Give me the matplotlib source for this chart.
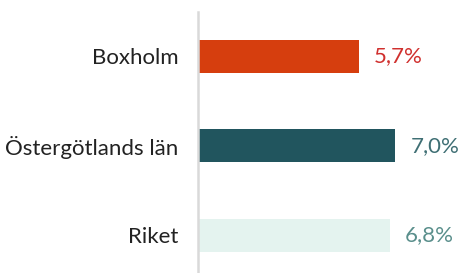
import matplotlib
matplotlib.use("Agg")
import matplotlib.pyplot as plt

categories = ["Boxholm", "Östergötlands län", "Riket"]
values = [5.7, 7.0, 6.8]
value_labels = ["5,7%", "7,0%", "6,8%"]
bar_colors = ["#D63E0E", "#21555E", "#E4F3EF"]
label_colors = ["#D0302E", "#3F6F74", "#5A8F8C"]

plt.rcParams['font.family'] = ['Lato', 'DejaVu Sans']

fig = plt.figure(figsize=(4.62, 2.73), dpi=100)
W, H = 462, 273
ax = fig.add_axes([198 / W, 0, (462 - 198) / W, (273 - 12) / H])

y = list(range(len(categories)))
ax.barh(y, values, height=0.37, color=bar_colors)
ax.set_ylim(2.42, -0.494)
ax.set_xlim(0, (462 - 198) / 28.2)

for yi, v, lab, c in zip(y, values, value_labels, label_colors):
    ax.annotate(lab, (v, yi), xytext=(15, 0), textcoords="offset pixels",
                ha="left", va="center", fontsize=16, color=c, fontweight="normal")

ax.set_yticks(y)
ax.set_yticklabels(categories, fontsize=16, color="#222222", fontweight="normal")
ax.tick_params(axis="y", length=0, pad=14)
ax.set_xticks([])
for s in ["top", "right", "bottom"]:
    ax.spines[s].set_visible(False)
ax.spines["left"].set_color("#D9D9D9")
ax.spines["left"].set_linewidth(1.8)

fig.savefig("out.png", dpi=100)
